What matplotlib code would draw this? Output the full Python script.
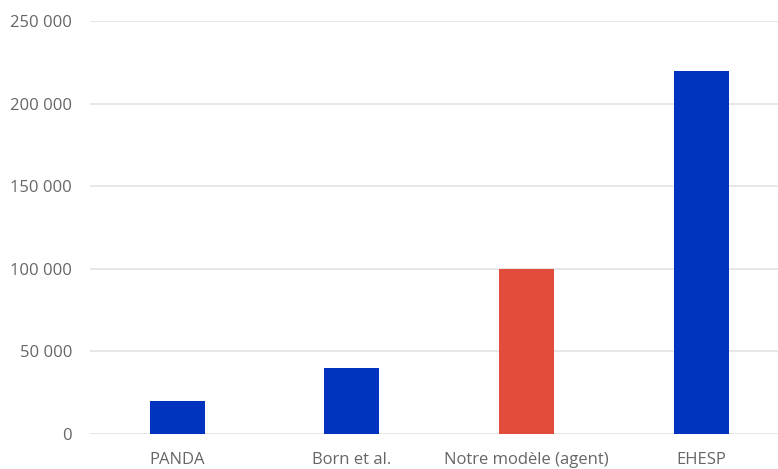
import matplotlib.pyplot as plt
from matplotlib.ticker import FuncFormatter

# Données
categories = ["PANDA", "Born et al.", "Notre modèle (agent)", "EHESP"]
valeurs = [20000, 40000, 100000, 220000]
couleurs = ["#0033c0", "#0033c0", "#e34c3b", "#0033c0"]

plt.rcParams['font.family'] = ['Open Sans', 'DejaVu Sans']

fig = plt.figure(figsize=(7.78, 4.69), dpi=100)
ax = fig.add_axes([0.1157, 0.0746, 0.8843, 0.8806])

ax.bar(range(len(categories)), valeurs, width=0.315, color=couleurs, zorder=3)

ax.set_ylim(0, 250000)
ax.set_xlim(-0.5, 3.44)
ax.set_yticks(range(0, 250001, 50000))
ax.yaxis.set_major_formatter(FuncFormatter(lambda v, p: f"{int(v):,}".replace(",", " ")))
ax.set_xticks(range(len(categories)))
ax.set_xticklabels(categories)

ax.grid(axis='y', color='#e3e3e3', linewidth=1.2, zorder=0)
for s in ax.spines.values():
    s.set_visible(False)
ax.tick_params(axis='both', length=0, colors='#666666', labelsize=12)
ax.tick_params(axis='y', pad=13)
ax.tick_params(axis='x', pad=13)

fig.savefig("out.png", dpi=100)
